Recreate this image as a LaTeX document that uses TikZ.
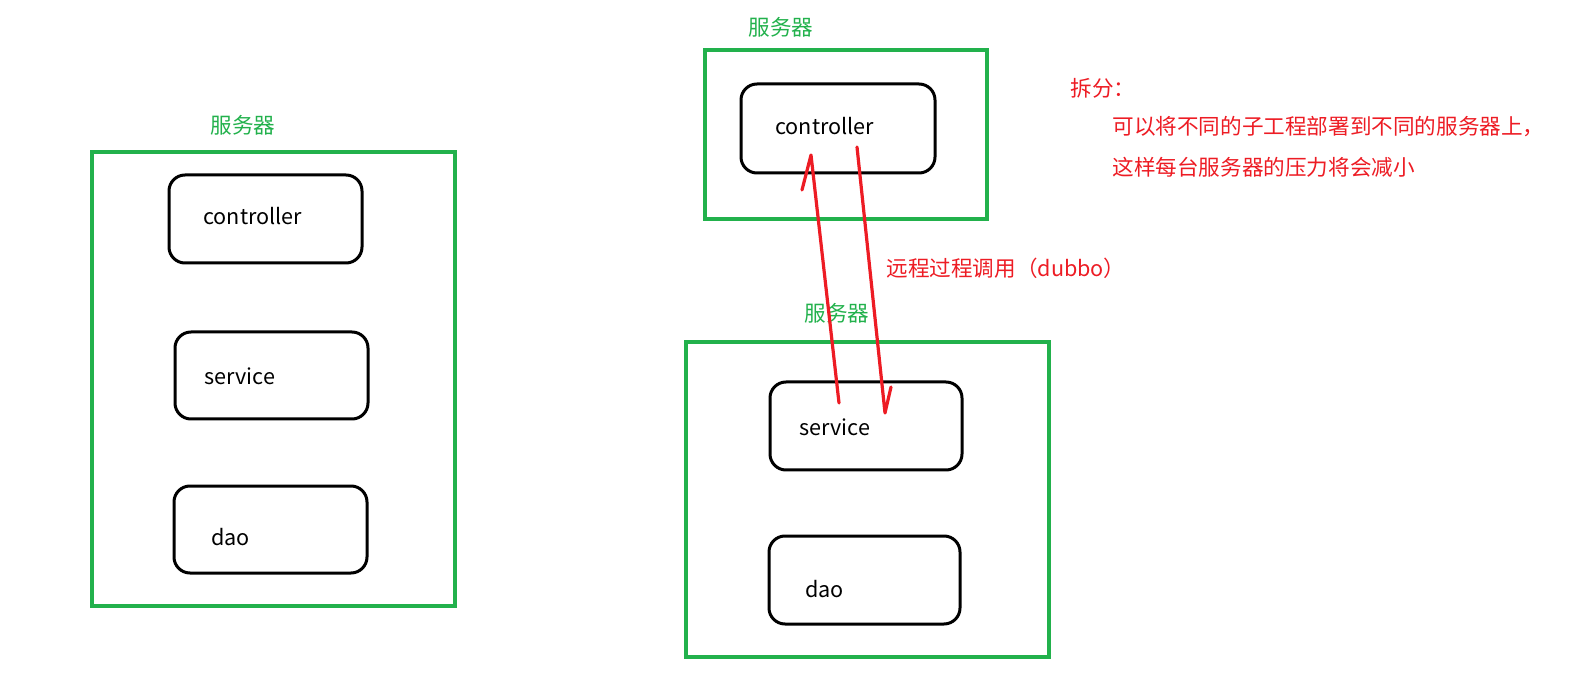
\documentclass[tikz,border=0pt]{standalone}
\usepackage{fontspec}
\newfontfamily\cjk{Noto Sans CJK SC}
\definecolor{pgreen}{RGB}{34,177,76}
\definecolor{pred}{RGB}{237,28,36}
\begin{document}
\begin{tikzpicture}[x=0.5pt,y=-0.5pt,
  server/.style={draw=pgreen,line width=1.6pt},
  layer/.style={draw=black,line width=1.5pt,rounded corners=8pt},
  txt/.style={font=\cjk\fontsize{10.8pt}{12pt}\selectfont,inner sep=0pt,anchor=west},
  glabel/.style={txt,text=pgreen},
  rlabel/.style={txt,text=pred},
  call/.style={draw=pred,line width=1.6pt,line cap=round,line join=round}]
\useasboundingbox (0,0) rectangle (1590,678);
% left server
\draw[server] (92,152) rectangle (455,606);
\node[glabel] (gl1) at (210,125) {服务器};
\draw[layer] (169,175) rectangle (362,263);
\node[txt] (c1) at (203,216) {controller};
\draw[layer] (175,332) rectangle (368,419);
\node[txt] (s1) at (204,376) {service};
\draw[layer] (174,486) rectangle (367,573);
\node[txt] (d1) at (211,537) {dao};
% top-right server
\draw[server] (705,50) rectangle (987,219);
\node[glabel] (gl2) at (748,27) {服务器};
\draw[layer] (741,84) rectangle (935,173);
\node[txt] (c2) at (775,126) {controller};
% bottom-right server
\draw[server] (686,342) rectangle (1049,657);
\node[glabel] (gl3) at (804,313) {服务器};
\draw[layer] (770,382) rectangle (962,470);
\node[txt] (s2) at (799,427) {service};
\draw[layer] (769,536) rectangle (960,624);
\node[txt] (d2) at (805,589) {dao};
% remote call arrows
\coordinate (a1s) at (839,403);
\coordinate (a1t) at (811,155);
\coordinate (a1b) at (802,190);
\coordinate (a2s) at (857,147);
\coordinate (a2t) at (885,413);
\coordinate (a2b) at (891,387);
\draw[call] (a1s) -- (a1t) -- (a1b);
\draw[call] (a2s) -- (a2t) -- (a2b);
\node[rlabel] (rpc) at (886,268) {远程过程调用（dubbo）};
% note
\node[rlabel] (n1) at (1070,88) {拆分：};
\node[rlabel] (n2) at (1112,127) {可以将不同的子工程部署到不同的服务器上，};
\node[rlabel] (n3) at (1112,167) {这样每台服务器的压力将会减小};
\end{tikzpicture}
\end{document}
